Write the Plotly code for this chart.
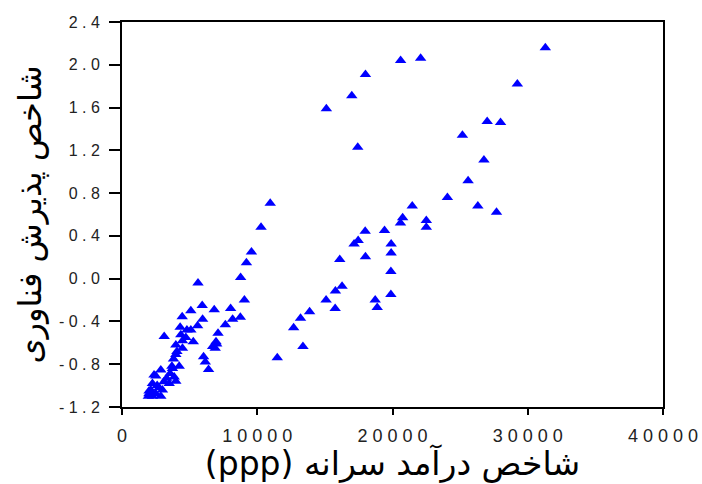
import plotly.graph_objects as go

income = [
    31300, 29230, 27000, 27990, 25170, 26760, 25590, 24060, 26310, 27690,
    20600, 22080, 18000, 16990, 15110, 17430, 21460, 20750, 20590, 22500,
    22500, 19410, 19900, 19900, 19880, 19880, 18720, 18870, 17980, 17460,
    17160, 16100, 18000, 16270, 15780, 15090, 15760, 13870, 13200, 12690,
    13380, 11480,
    10960, 10280, 9570, 9200, 8770, 9050, 8750, 5620, 5930, 5090,
    6820, 8030, 4450, 5960, 8180, 7640, 5590, 4300, 4800, 5090,
    3120, 7100, 5270, 4470, 4470, 7000, 6890, 4060, 6030, 6160,
    6400, 3810, 4230, 3690, 2870, 3560, 2500, 3980, 3100, 3490,
    2250, 2740, 2130, 2990, 2500, 1950, 2250, 2870, 3860, 3980,
    4720, 4350, 2370, 3730, 3980, 6700, 6950, 1990, 2000, 2600, 3300,
]
adoption = [
    2.16, 1.82, 1.47, 1.46, 1.34, 1.11, 0.915, 0.76, 0.68, 0.62,
    2.04, 2.06, 1.91, 1.71, 1.59, 1.23, 0.68, 0.57, 0.52, 0.545,
    0.48, 0.45, 0.325, 0.24, 0.066, -0.147, -0.20, -0.27, 0.444, 0.356,
    0.325, 0.18, 0.205, -0.07, -0.116, -0.20, -0.28, -0.31, -0.37, -0.46,
    -0.635, -0.74,
    0.705, 0.48, 0.25, 0.15, 0.01, -0.20, -0.36, -0.04, -0.25, -0.30,
    -0.29, -0.28, -0.355, -0.38, -0.38, -0.43, -0.44, -0.455, -0.48, -0.48,
    -0.54, -0.51, -0.59, -0.58, -0.65, -0.61, -0.65, -0.68, -0.73, -0.78,
    -0.85, -0.75, -0.82, -0.82, -0.855, -0.887, -0.91, -0.96, -0.965, -0.98,
    -0.98, -1.02, -1.04, -1.04, -1.075, -1.10, -1.10, -1.10, -0.92, -0.62,
    -0.55, -0.525, -0.90, -0.84, -0.71, -0.635, -0.59, -1.075, -1.05, -1.0, -0.93,
]

x_ticks = [0, 10000, 20000, 30000, 40000]
x_labels = ["0", "10000", "20000", "30000", "40000"]
y_ticks = [-1.2, -0.8, -0.4, 0.0, 0.4, 0.8, 1.2, 1.6, 2.0, 2.4]
y_labels = ["-1.2", "-0.8", "-0.4", "0.0", "0.4", "0.8", "1.2", "1.6", "2.0", "2.4"]

x_title = "شاخص درآمد سرانه (ppp)"
y_title = "شاخص پذیرش فناوری"


def spaced(s):
    # the reference draws its tick labels with wide letter spacing
    return " ".join(s)


fig = go.Figure()
fig.add_trace(go.Scatter(
    x=income, y=adoption, mode="markers",
    marker=dict(symbol="triangle-up", size=10, color="#0000FF",
                line=dict(width=0)),
    showlegend=False, hoverinfo="skip",
))

axis_common = dict(
    showgrid=False, zeroline=False, showline=True, linecolor="black",
    linewidth=2, mirror=True, ticks="outside", tickcolor="black",
    tickwidth=2, automargin=False,
)

fig.update_xaxes(
    range=[0, 40000], tickvals=x_ticks, ticktext=[spaced(t) for t in x_labels],
    ticklen=6, ticklabelstandoff=5,
    tickfont=dict(family="Liberation Sans, Arial", size=18, color="#222"),
    title=dict(text="\u202b" + x_title + "\u202c", standoff=4,
               font=dict(family="DejaVu Sans, Arial", size=33, color="black")),
    **axis_common,
)
fig.update_yaxes(
    range=[-1.2, 2.4], tickvals=y_ticks, ticktext=[spaced(t) for t in y_labels],
    ticklen=11, ticklabelstandoff=6,
    tickfont=dict(family="Liberation Sans, Arial", size=16, color="#222"),
    title=dict(text=y_title, standoff=8,
               font=dict(family="DejaVu Sans, Arial", size=32, color="black")),
    **axis_common,
)

fig.update_layout(
    width=702, height=484,
    margin=dict(l=122, r=39, t=22, b=77),
    paper_bgcolor="white", plot_bgcolor="white",
)

fig.write_html("out.html", config={"displayModeBar": False},
               post_script="document.body.style.margin='0';")
